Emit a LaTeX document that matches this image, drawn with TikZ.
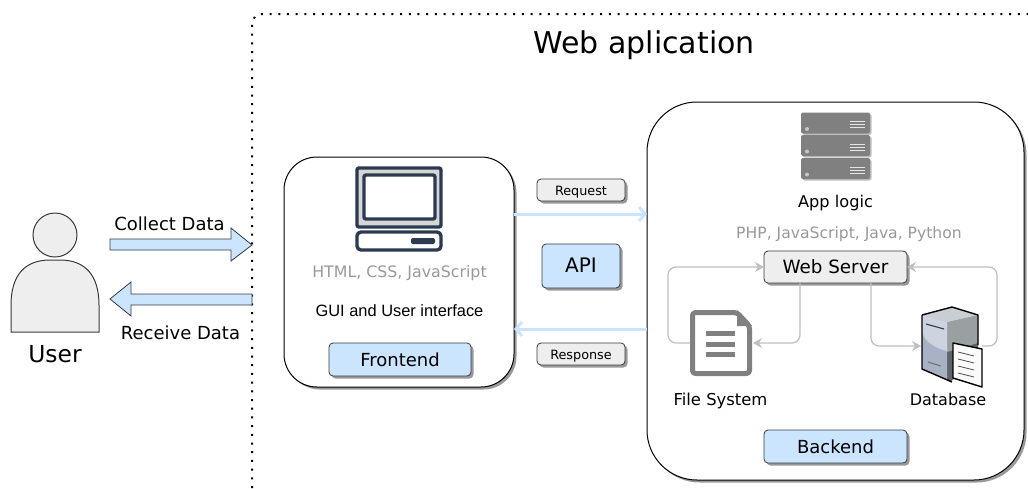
\documentclass[tikz,border=0pt]{standalone}
\usepackage{fontspec}
\setmainfont{DejaVu Sans}
\newfontfamily\arialfont{Liberation Sans}
\usetikzlibrary{shadows,arrows.meta}
\definecolor{lblue}{HTML}{CCE5FF}
\definecolor{lgrey}{HTML}{EEEEEE}
\definecolor{navy}{HTML}{2B3A50}
\definecolor{txtgrey}{HTML}{999999}
\definecolor{iconGrey}{HTML}{808080}
\definecolor{conn}{HTML}{BFBFBF}
\definecolor{edge}{HTML}{36393D}
\definecolor{dbTop}{HTML}{C9CED4}
\definecolor{dbLeftA}{HTML}{CDD3DF}
\definecolor{dbLeftB}{HTML}{A9B2C4}
\definecolor{dbRightA}{HTML}{9A9FA2}
\definecolor{dbRightB}{HTML}{5F6468}
\newcommand{\fs}[1]{\fontsize{#1}{#1}\selectfont}
\newcommand{\dn}[2]{\raisebox{-#1pt}[0pt][0pt]{#2}}
\tikzset{
  x=1pt,y=-1pt,
  shad/.style={drop shadow={shadow xshift=2.5pt,shadow yshift=-2.5pt,fill=black!40,opacity=1}},
  panel/.style={draw=black,line width=1pt,fill=white,rounded corners=#1,inner sep=0pt,outer sep=0pt,shad},
  tag/.style={draw=edge,line width=0.8pt,rounded corners=4pt,inner sep=0pt,outer sep=0pt,align=center,shad},
  tagblue/.style={tag,fill=lblue},
  taggrey/.style={tag,fill=lgrey},
  label/.style={inner sep=0pt,outer sep=0pt,text=black},
  greylabel/.style={inner sep=0pt,outer sep=0pt,text=txtgrey},
  blockarrow/.style={draw=edge,line width=0.8pt,fill=lblue,line join=miter},
  apiarrow/.style={draw=lblue,line width=3pt,-{Straight Barb[length=6pt,width=14pt,line width=3pt]}},
  linkarrow/.style={draw=conn,line width=1.2pt,rounded corners=8pt,-{Stealth[length=9pt,width=10pt,inset=3pt]}},
  stackunit/.style={fill=iconGrey,rounded corners=2pt,inner sep=0pt,outer sep=0pt,minimum width=69pt,minimum height=21pt,
    drop shadow={shadow xshift=1.5pt,shadow yshift=-1.5pt,fill=black!25,opacity=1}},
  monitorline/.style={draw=navy,line width=3.4pt,rounded corners=2pt,line join=round},
}
\begin{document}
\begin{tikzpicture}
\useasboundingbox (0,0) rectangle (1028,488);
% dotted boundary
\draw[line width=2pt,dash pattern=on 2pt off 6.7pt,rounded corners=10pt] (252,488) -- (252,14) -- (1028,14);
\node[label] (title) at (644,45) {\fs{30}Web aplication};

% user
\node[draw=edge,line width=1pt,fill=lgrey,circle,minimum size=44pt,inner sep=0pt,outer sep=0pt] (head) at (55,235) {};
\draw[draw=edge,line width=1pt,fill=lgrey] (11,332) -- (11,305) .. controls (11,275) and (25,260) .. (50,260)
  -- (60,260) .. controls (85,260) and (99,275) .. (99,305) -- (99,332) -- cycle;
\node[label] (user) at (55,354) {\fs{23.4}User};

% block arrows
\draw[blockarrow] (110,239) -- (231,239) -- (231,228) -- (252,245) -- (231,261) -- (231,250) -- (110,250) -- cycle;
\draw[blockarrow] (252,294) -- (131,294) -- (131,282) -- (110,299) -- (131,316) -- (131,305) -- (252,305) -- cycle;
\node[label] (collect) at (169.5,223.5) {\fs{18}Collect Data};
\node[label] (receive) at (180.5,332.5) {\fs{18}Receive Data};

% frontend
\node[panel=33pt,minimum width=230pt,minimum height=230pt] (front) at (399,272) {};
\draw[monitorline,fill=black!16] (357,168) rectangle (441,227);
\draw[monitorline,fill=white] (364,175) rectangle (435,219);
\draw[monitorline,fill=white,rounded corners=4pt] (357,232) rectangle (441,250);
\fill[navy,rounded corners=2pt] (411,238) rectangle (435,244);
\node[greylabel] (fronttech) at (399.5,273.5) {\fs{15.8}HTML, CSS, JavaScript};
\node[label] (gui) at (399.5,310.5) {\arialfont\fs{16.4}GUI and User interface};
\node[tagblue,minimum width=142pt,minimum height=33pt] (frontend) at (400,359.5) {\fs{18}Frontend};

% backend
\node[panel=50pt,minimum width=377pt,minimum height=378pt] (back) at (835.5,291) {};

% api
\draw[apiarrow] ([yshift=58pt]front.east) -- ([yshift=77pt]back.west);
\draw[apiarrow] ([yshift=-38pt]back.west) -- ([yshift=-57pt]front.east);
\node[taggrey,minimum width=88pt,minimum height=22pt] (request) at (581,190) {\dn{5}{\fs{12.8}Request}};
\node[taggrey,minimum width=88pt,minimum height=22pt] (response) at (581,354) {\dn{5}{\fs{12.8}Response}};
\node[tagblue,minimum width=78pt,minimum height=44pt] (api) at (581,266) {\dn{6.7}{\fs{20}API}};

% server stack
\foreach \n/\cy in {a/123,b/145.5,c/168.5}{
  \node[stackunit] (stack\n) at (835.5,\cy) {};
  \fill[black!22] (807,\cy+6) circle (2pt);
  \foreach \d in {-1.5,1.5,4.5}{
    \draw[white!80!iconGrey,line width=0.9pt] (850,\cy+\d) -- (865,\cy+\d);
  }
}
\node[label] (logic) at (835.5,203.5) {\fs{16.2}App logic};
\node[greylabel] (backtech) at (849,234.5) {\fs{15.6}PHP, JavaScript, Java, Python};
\node[taggrey,minimum width=143pt,minimum height=32pt] (ws) at (835.5,267) {\fs{18.3}Web Server};
\node[tagblue,minimum width=143pt,minimum height=33pt] (backend) at (835.5,446.5) {\fs{18}Backend};

% file icon
\draw[iconGrey,line width=5pt,rounded corners=3pt,line join=round,fill=white] (692.5,312.5) -- (737,312.5) -- (749.5,326) -- (749.5,373.5) -- (692.5,373.5) -- cycle;
\fill[iconGrey] (737,310) -- (752,326) -- (737,326) -- cycle;
\foreach \yy in {331,342,352}{ \fill[iconGrey] (706,\yy) rectangle (735,\yy+5); }
\coordinate (fileL) at (690,343);
\coordinate (fileR) at (753,343);
\node[label] (filesys) at (720.5,400.5) {\fs{16.4}File System};

% database icon
\begin{scope}[line join=round]
\fill[dbRightB] (947,322) -- (978,315) -- (978,360) -- (950,382) -- (947,380) -- cycle;
\fill[dbRightA] (947,322) -- (978,315) -- (978,343) -- (947,352) -- cycle;
\fill[dbTop] (922,315) -- (952,307) -- (978,315) -- (947,322) -- cycle;
\fill[dbLeftB] (922,315) -- (947,322) -- (947,380) -- (922,369) -- cycle;
\fill[dbLeftA] (922,315) -- (947,322) -- (947,351) .. controls (935,348) and (925,342) .. (922,332) -- cycle;
\draw[black,line width=1.4pt] (922,315) -- (952,307) -- (978,315) -- (978,345);
\draw[black,line width=1.4pt] (922,315) -- (922,369) -- (952,382);
\draw[edge,line width=1.1pt] (926,324) -- (944,329);
\draw[black!55,line width=1.1pt] (928,362) -- (941,366);
\draw[black,line width=1.4pt,fill=white!92!dbLeftA] (953,343) -- (982,349) -- (982,387) -- (953,378) -- cycle;
\foreach \yy in {355,362,369,376}{
  \draw[black!70,line width=0.8pt] (958,\yy-3) -- (974,\yy+1);
}
\end{scope}
\coordinate (dbL) at (921,346);
\coordinate (dbR) at (982,346);
\node[label] (database) at (948,400) {\fs{16}Database};

% web server links
\draw[linkarrow] (fileL) -- (668,343) -- (668,267) -- (ws.west);
\draw[linkarrow] ([xshift=-35.5pt]ws.south) -- (800,343) -- (fileR);
\draw[linkarrow] ([xshift=35.5pt]ws.south) -- (871,346) -- (dbL);
\draw[linkarrow] (dbR) -- (997,346) -- (997,267) -- (ws.east);
\end{tikzpicture}
\end{document}
